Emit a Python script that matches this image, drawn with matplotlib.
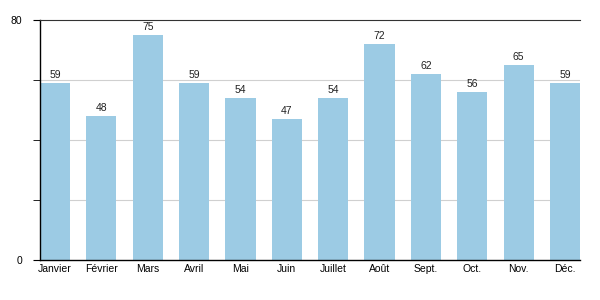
import matplotlib.pyplot as plt

months = ['Janvier', 'Février', 'Mars', 'Avril', 'Mai', 'Juin', 'Juillet',
          'Août', 'Sept.', 'Oct.', 'Nov.', 'Déc.']
values = [59, 48, 75, 59, 54, 47, 54, 72, 62, 56, 65, 59]

plt.rcParams['font.family'] = ['Liberation Sans', 'DejaVu Sans']
plt.rcParams['font.size'] = 7.5

fig = plt.figure(figsize=(6, 3), dpi=100)
ax = fig.add_axes([40 / 600, 40 / 300, 540 / 600, 240 / 300])

w = 0.65
x = list(range(len(months)))
bars = ax.bar(x, values, width=w, color='#9ccbe4', zorder=2)
for xi, v in zip(x, values):
    ax.text(xi, v + 1, str(v), ha='center', va='bottom', fontsize=7.5, color='#222222')

ax.set_xlim(-w / 2, len(months) - 1 + w / 2)
ax.set_ylim(0, 80)
ax.set_yticks([0, 80])
ax.set_yticks([20, 40, 60], minor=True)
ax.set_xticks(x)
ax.set_xticklabels(months)
ax.tick_params(axis='x', length=0, pad=3)
ax.tick_params(axis='y', which='both', length=5, direction='out', pad=8)

for g in [20, 40, 60]:
    ax.axhline(g, color='#d0d0d0', linewidth=0.8, zorder=1)

ax.spines['right'].set_visible(False)
ax.spines['top'].set_color('#333333')
ax.spines['top'].set_linewidth(0.8)
ax.spines['left'].set_linewidth(1.0)
ax.spines['bottom'].set_linewidth(1.0)

fig.savefig('out.png', dpi=100)
